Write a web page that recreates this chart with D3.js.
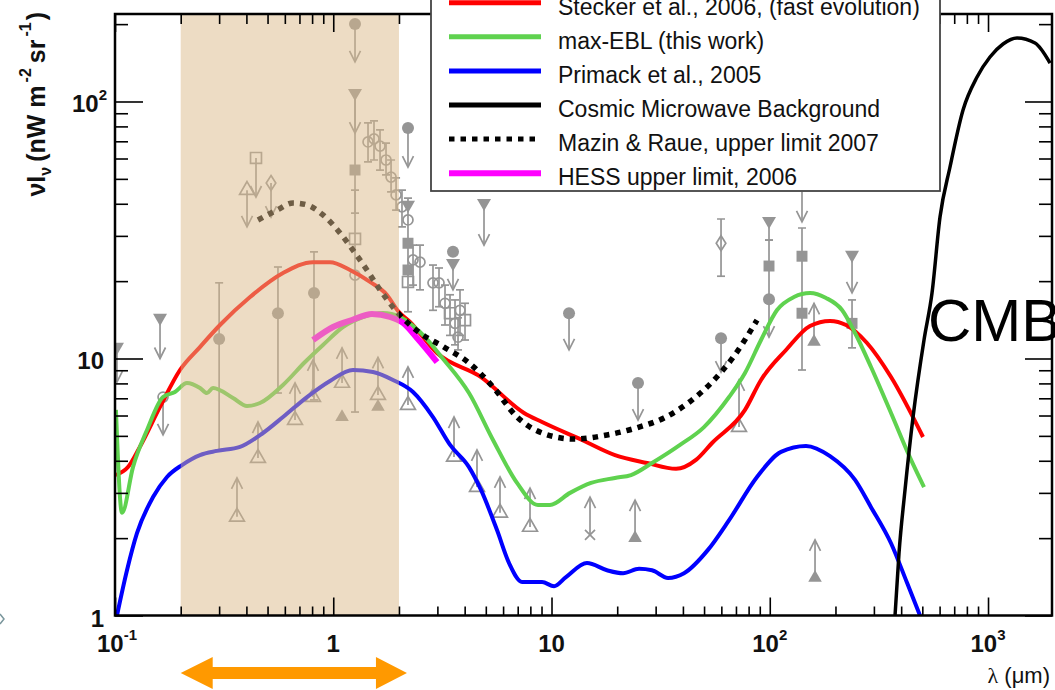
<!DOCTYPE html>
<html>
<head>
<meta charset="utf-8">
<script src="https://cdn.jsdelivr.net/npm/d3@7"></script>
<style>
  html, body { margin: 0; padding: 0; background: #fff; overflow: hidden; }
  svg { display: block; }
  text { font-family: "Liberation Sans", Arial, Helvetica, sans-serif; }
</style>
</head>
<body>
<svg id="chart" width="1055" height="690"></svg>
<script>
// ---------- EBL model curves: wavelength (um) and nu*I_nu (nW m^-2 sr^-1) ----------
const steckerLam = [0.101, 0.1147, 0.130, 0.1608, 0.1985, 0.245, 0.3027, 0.4157, 0.5886, 0.8075, 0.966, 1.193, 1.474, 1.763, 1.98, 2.247, 2.988, 4.753, 7.48, 9.05, 13.8, 19.54, 27.4, 37.2, 45.9, 54.4, 77.0, 91.2, 118.7, 152.9, 188.8, 223.6, 279, 359.4, 503.7];
const steckerVal = [3.52, 3.78, 4.53, 6.48, 9.02, 11.08, 13.5, 17.35, 21.5, 23.7, 23.7, 22.1, 19.85, 17.67, 15.3, 13.87, 10.5, 8.47, 6.14, 5.66, 4.82, 4.21, 3.92, 3.72, 4.03, 4.69, 6.31, 8.25, 10.79, 13.38, 14.0, 13.5, 11.49, 8.47, 4.95];

const maxEblLam = [0.101, 0.1077, 0.1209, 0.1402, 0.166, 0.1883, 0.2137, 0.2452, 0.2639, 0.2812, 0.3473, 0.4026, 0.4617, 0.5886, 0.7424, 0.8974, 1.108, 1.369, 1.69, 2.023, 2.497, 3.217, 4.188, 5.395, 6.95, 8.67, 9.84, 12.16, 15.17, 19.54, 23.14, 28.87, 38.8, 49.97, 65.1, 77.0, 91.2, 108, 129.1, 152.9, 181.1, 214.3, 245.9, 291, 359.4, 444, 509];
const maxEblVal = [6.31, 2.51, 3.78, 5.27, 7.08, 7.41, 8.03, 7.68, 7.34, 7.68, 7.02, 6.54, 6.71, 7.89, 9.69, 11.29, 13.26, 14.5, 15.03, 14.5, 12.68, 9.87, 7.34, 4.82, 3.28, 2.69, 2.69, 3.0, 3.28, 3.43, 3.52, 3.92, 4.61, 5.41, 7.08, 8.78, 11.8, 15.44, 17.35, 17.98, 17.2, 15.44, 12.57, 9.27, 6.14, 4.03, 3.16];

const primackLam = [0.1021, 0.1135, 0.1261, 0.1494, 0.1731, 0.2028, 0.2452, 0.2934, 0.3739, 0.4766, 0.5886, 0.758, 0.966, 1.231, 1.521, 1.878, 2.32, 2.864, 3.43, 4.188, 4.753, 5.627, 6.39, 7.33, 9.05, 10.27, 11.65, 14.54, 17.96, 21.27, 25.18, 28.87, 34.18, 40.47, 52.1, 65.1, 87.4, 112.6, 146.6, 188.8, 245.9, 291, 359.4, 425.6, 488];
const primackVal = [1.0, 1.50, 2.09, 2.89, 3.46, 3.85, 4.21, 4.37, 4.53, 5.13, 5.92, 7.08, 8.18, 9.02, 8.86, 8.25, 7.41, 5.92, 4.61, 3.78, 3.08, 2.15, 1.60, 1.35, 1.35, 1.30, 1.41, 1.60, 1.50, 1.46, 1.52, 1.50, 1.40, 1.46, 1.80, 2.35, 3.46, 4.33, 4.57, 4.17, 3.37, 2.64, 1.91, 1.34, 1.0];

const cmbLam = [374.9, 391, 416.6, 453.4, 509, 553.8, 602.6, 669.6, 768.3, 890.7, 1021, 1172, 1358, 1642, 1924];
const cmbVal = [1.0, 1.75, 3.08, 5.92, 11.8, 17.98, 35.5, 55.6, 92.7, 124.5, 149, 167.4, 176.7, 168.9, 141.1];

const mazinLam = [0.452, 0.5524, 0.654, 0.758, 0.8974, 1.074, 1.231, 1.427, 1.638, 1.98, 2.497, 3.217, 4.188, 5.395, 6.95, 9.05, 12.68, 17.96, 25.18, 32.77, 42.21, 54.4, 67.9, 87.4];
const mazinVal = [34.6, 37.8, 40.3, 39.6, 36.2, 30.8, 26.4, 22.1, 18.5, 15.03, 12.57, 11.08, 9.61, 7.75, 5.92, 5.13, 4.86, 5.04, 5.41, 5.87, 6.71, 8.10, 10.1, 14.1];

const hessLam = [0.8075, 0.9975, 1.218, 1.505, 1.82, 2.088, 2.419, 2.988];
const hessVal = [11.8, 13.26, 14.12, 14.9, 14.5, 13.75, 12.02, 9.69];

// ---------- measurements, upper limits (lim < v) and lower limits (lim > v) ----------
const measurements = [
  {l: 0.1021, v: 11.1, m: "dtri", lim: 8.10},
  {l: 0.1608, v: 14.4, m: "dtri", lim: 10.0},
  {l: 0.166,  v: 7.08, m: "ocirc", lim: 5.04},
  {l: 0.4026, v: 45.2, m: "otri", lim: 32.5},
  {l: 0.4426, v: 60.3, m: "osq", lim: 42.5},
  {l: 0.5186, v: 48.2, m: "odia", lim: 35.5},
  {l: 0.300,  v: 11.9, m: "circ", lo: 4.41, hi: 19.7},
  {l: 0.558,  v: 15.0, m: "circ", lo: 7.34, hi: 22.7},
  {l: 0.8161, v: 18.0, m: "circ", lo: 6.90, hi: 26.0},
  {l: 0.3622, v: 2.42, m: "otri", lim: 3.43},
  {l: 0.452,  v: 4.10, m: "otri", lim: 5.66},
  {l: 0.668,  v: 5.76, m: "otri", lim: 8.03},
  {l: 0.8075, v: 7.08, m: "otri", lim: 9.87},
  {l: 1.097,  v: 8.03, m: "otri", lim: 11.0},
  {l: 1.097,  v: 5.92, m: "tri"},
  {l: 1.603,  v: 7.21, m: "otri", lim: 10.1},
  {l: 1.603,  v: 6.48, m: "tri"},
  {l: 1.258,  v: 200.3, m: "circ", lim: 142.5},
  {l: 1.258,  v: 107.9, m: "dtri", lim: 75.4},
  {l: 1.258,  v: 54.1, m: "sq", lo: 36.8, hi: 107.9},
  {l: 1.258,  v: 21.1, m: "ocirc", lo: 6.19, hi: 45.2},
  {l: 1.258,  v: 29.2, m: "osq"},
  {l: 1.443,  v: 69.6, m: "ocirc", lo: 58.2, hi: 82.5},
  {l: 1.537,  v: 71.5, m: "ocirc", lo: 59.2, hi: 84.0},
  {l: 1.638,  v: 67.1, m: "ocirc", lo: 54.1, hi: 77.5},
  {l: 1.745,  v: 59.2, m: "ocirc", lo: 51.8, hi: 68.9},
  {l: 1.840,  v: 50.8, m: "ocirc", lo: 44.5, hi: 59.2},
  {l: 1.940,  v: 43.3, m: "ocirc", lo: 37.8, hi: 50.4},
  {l: 2.065,  v: 38.9, m: "ocirc", lo: 32.5, hi: 45.2},
  {l: 2.200,  v: 78.9, m: "circ", lim: 55.6},
  {l: 2.200,  v: 39.6, m: "dtri", lo: 15.2, hi: 42.1},
  {l: 2.200,  v: 34.6, m: "ocirc"},
  {l: 2.200,  v: 28.1, m: "sq"},
  {l: 2.200,  v: 22.1, m: "sq"},
  {l: 2.200,  v: 19.85, m: "osq"},
  {l: 2.320,  v: 24.2, m: "ocirc", lo: 19.3, hi: 27.6},
  {l: 2.497,  v: 23.7, m: "ocirc", lo: 18.5, hi: 27.6},
  {l: 2.864,  v: 19.7, m: "ocirc", lo: 15.4, hi: 23.1},
  {l: 3.052,  v: 19.7, m: "ocirc", lo: 15.9, hi: 22.5},
  {l: 3.537,  v: 26.0, m: "circ"},
  {l: 3.537,  v: 23.5, m: "dtri", lim: 18.5},
  {l: 3.251,  v: 16.4, m: "ocirc", lo: 13.5, hi: 19.3},
  {l: 3.427,  v: 15.0, m: "osq", lo: 12.3, hi: 17.7},
  {l: 3.613,  v: 13.7, m: "ocirc", lo: 11.3, hi: 16.9},
  {l: 3.808,  v: 15.4, m: "ocirc", lo: 12.3, hi: 18.5},
  {l: 4.015,  v: 14.1, m: "osq", lo: 11.8, hi: 16.4},
  {l: 3.730,  v: 12.1, m: "ocirc", lo: 10.8, hi: 14.4},
  {l: 4.906,  v: 40.3, m: "dtri", lim: 27.6},
  {l: 2.200,  v: 6.59, m: "otri", lim: 9.27},
  {l: 3.575,  v: 4.14, m: "otri", lim: 5.92},
  {l: 4.556,  v: 3.16, m: "otri", lim: 4.41},
  {l: 5.808,  v: 2.51, m: "otri", lim: 3.46},
  {l: 7.971,  v: 2.21, m: "otri", lim: 3.13},
  {l: 12.03,  v: 15.0, m: "circ", lim: 10.8},
  {l: 24.91,  v: 8.03, m: "circ", lim: 5.76},
  {l: 15.01,  v: 2.06, m: "cross", lim: 2.89},
  {l: 24.14,  v: 2.00, m: "tri", lim: 2.81},
  {l: 59.8,   v: 28.1, m: "odia", lo: 20.9, hi: 34.9},
  {l: 59.8,   v: 12.0, m: "circ", lim: 8.86},
  {l: 72.3,   v: 5.41, m: "otri", lim: 8.25},
  {l: 99.2,   v: 34.3, m: "dtri", lo: 28.9, hi: 34.3},
  {l: 99.2,   v: 22.9, m: "sq", lo: 17.0, hi: 28.9},
  {l: 99.2,   v: 17.0, m: "circ", lim: 12.1},
  {l: 140.5,  v: 44.5, m: "none", lim: 34.0},
  {l: 140.5,  v: 25.0, m: "sq", lo: 9.02, hi: 32.2},
  {l: 140.5,  v: 15.0, m: "sq"},
  {l: 159.5,  v: 11.6, m: "tri", lim: 16.4},
  {l: 161.2,  v: 1.40, m: "tri", lim: 1.97},
  {l: 238.2,  v: 25.3, m: "dtri", lim: 18.0},
  {l: 238.2,  v: 13.7, m: "sq", lo: 11.0, hi: 16.9}
];

// ---------- axes, band and legend text ----------
const xMajorTicks = [0.1, 1, 10, 100, 1000];
const xTickLabels = [["10", "-1"], ["1", ""], ["10", ""], ["10", "2"], ["10", "3"]];
const yMajorTicks = [1, 10, 100];
const yTickLabels = [["1", ""], ["10", ""], ["10", "2"]];
const bandLam = [0.2, 2];
const legendLabels = [
  "Stecker et al., 2006, (fast evolution)",
  "max-EBL (this work)",
  "Primack et al., 2005",
  "Cosmic Microwave Background",
  "Mazin & Raue, upper limit 2007",
  "HESS upper limit, 2006"
];

// ---------- drawing ----------
const svg = d3.select("#chart");
const L = 115, R = 1052, T = 14, B = 615.5;

const x = d3.scaleLog().domain([0.1, 1964]).range([L, R]);
const y = d3.scaleLog().domain([1, 219]).range([B, T]);

svg.append("defs").append("clipPath").attr("id", "plotClip")
  .append("rect").attr("x", L).attr("y", T).attr("width", R - L).attr("height", B - T);

const plot = svg.append("g").attr("clip-path", "url(#plotClip)");

// gray data points
const GRAY = "#959595";
const pts = plot.append("g").attr("stroke", GRAY).attr("stroke-width", 1.7).attr("fill", "none");
const sym = (type, size) => d3.symbol().type(type).size(size)();

measurements.forEach(d => {
  const cx = x(d.l), cy = y(d.v);
  if (d.lo != null) {
    const y1 = y(d.hi), y2 = y(d.lo);
    pts.append("line").attr("x1", cx).attr("x2", cx).attr("y1", y1).attr("y2", y2);
    [y1, y2].forEach(yy => pts.append("line").attr("x1", cx - 4).attr("x2", cx + 4).attr("y1", yy).attr("y2", yy));
  }
  if (d.lim != null) {
    const ye = y(d.lim);
    const dir = ye > cy ? -1 : 1;
    pts.append("line").attr("x1", cx).attr("x2", cx).attr("y1", cy).attr("y2", ye);
    pts.append("path").attr("d", `M${cx - 5.5},${ye + dir * 11}L${cx},${ye}L${cx + 5.5},${ye + dir * 11}`);
  }
  const g = pts.append("g").attr("transform", `translate(${cx},${cy})`);
  switch (d.m) {
    case "circ": g.append("circle").attr("r", 6).attr("fill", GRAY).attr("stroke", "none"); break;
    case "ocirc": g.append("circle").attr("r", 5).attr("fill", "none"); break;
    case "sq": g.append("path").attr("d", sym(d3.symbolSquare, 120)).attr("fill", GRAY).attr("stroke", "none"); break;
    case "osq": g.append("path").attr("d", sym(d3.symbolSquare, 120)); break;
    case "tri": g.append("path").attr("d", sym(d3.symbolTriangle, 80)).attr("fill", GRAY).attr("stroke", "none"); break;
    case "otri": g.append("path").attr("d", sym(d3.symbolTriangle, 95)); break;
    case "dtri": g.append("path").attr("d", sym(d3.symbolTriangle, 85)).attr("transform", "rotate(180)").attr("fill", GRAY).attr("stroke", "none"); break;
    case "odia": g.append("path").attr("d", "M0,-7.5L4.8,0L0,7.5L-4.8,0Z"); break;
    case "cross": g.append("path").attr("d", "M-5,-5L5,5M-5,5L5,-5"); break;
  }
});

// model curves
const line = d3.line().x(d => x(d[0])).y(d => y(d[1])).curve(d3.curveMonotoneX);
const curve = (lam, val, color, width, dash) => {
  const p = plot.append("path").datum(d3.zip(lam, val))
    .attr("d", line).attr("fill", "none").attr("stroke", color)
    .attr("stroke-width", width).attr("stroke-linejoin", "round");
  if (dash) p.attr("stroke-dasharray", dash);
  return p;
};
curve(primackLam, primackVal, "#0000ff", 4);
curve(steckerLam, steckerVal, "#ff0000", 4);
curve(maxEblLam, maxEblVal, "#5fd24f", 4);
curve(hessLam, hessVal, "#ff00ff", 6);
curve(mazinLam, mazinVal, "#000000", 5.5, "5.5,6");
curve(cmbLam, cmbVal, "#000000", 3.5);

// translucent band over the 0.2-2 um range
plot.append("rect")
  .attr("x", x(bandLam[0])).attr("y", T)
  .attr("width", x(bandLam[1]) - x(bandLam[0])).attr("height", B - T)
  .attr("fill", "rgb(220,186,137)").attr("fill-opacity", 0.5);

// axes with inward ticks
const minorX = x.ticks().filter(v => !xMajorTicks.includes(v));
const minorY = y.ticks().filter(v => !yMajorTicks.includes(v));
function drawAxis(gen, tr, values, size) {
  const g = svg.append("g").attr("transform", tr)
    .call(gen.tickValues(values).tickSize(-size).tickFormat(""));
  g.select(".domain").remove();
  g.selectAll("line").attr("stroke", "#000").attr("stroke-width", 1.6);
}
drawAxis(d3.axisBottom(x), `translate(0,${B})`, xMajorTicks, 18);
drawAxis(d3.axisBottom(x), `translate(0,${B})`, minorX, 9);
drawAxis(d3.axisTop(x), `translate(0,${T})`, xMajorTicks, 18);
drawAxis(d3.axisTop(x), `translate(0,${T})`, minorX, 10);
drawAxis(d3.axisLeft(y), `translate(${L},0)`, yMajorTicks, 28);
drawAxis(d3.axisLeft(y), `translate(${L},0)`, minorY, 13);
drawAxis(d3.axisRight(y), `translate(${R},0)`, yMajorTicks, 27);
drawAxis(d3.axisRight(y), `translate(${R},0)`, minorY, 13);

svg.append("rect").attr("x", L).attr("y", T).attr("width", R - L).attr("height", B - T)
  .attr("fill", "none").attr("stroke", "#000").attr("stroke-width", 2.5);

// tick labels with superscripts
function label(sel, parts) {
  sel.append("tspan").text(parts[0]);
  if (parts[1]) sel.append("tspan").attr("font-size", 15).attr("dy", -12).text(parts[1]);
}
xMajorTicks.forEach((v, i) => {
  const t = svg.append("text").attr("x", x(v) + (i === 0 ? 2 : 0)).attr("y", 652)
    .attr("text-anchor", "middle").attr("font-size", 24).attr("font-weight", "bold").attr("fill", "#111");
  label(t, xTickLabels[i]);
});
yMajorTicks.forEach((v, i) => {
  const t = svg.append("text").attr("x", yTickLabels[i][1] ? 107 : 104).attr("y", y(v) + 11)
    .attr("text-anchor", "end").attr("font-size", 24).attr("font-weight", "bold").attr("fill", "#111");
  label(t, yTickLabels[i]);
});

// axis titles
const yt = svg.append("text").attr("transform", "translate(45,12) rotate(-90)")
  .attr("text-anchor", "end").attr("font-size", 25).attr("font-weight", "bold").attr("fill", "#111");
yt.append("tspan").text("\u03bdI");
yt.append("tspan").attr("font-size", 16).attr("dy", 6).text("\u03bd");
yt.append("tspan").attr("dy", -6).attr("dx", 5).text("(nW m");
yt.append("tspan").attr("font-size", 16).attr("dy", -14).attr("dx", 3).text("-2");
yt.append("tspan").attr("dy", 14).attr("dx", 5).text("sr");
yt.append("tspan").attr("font-size", 16).attr("dy", -14).attr("dx", 3).text("-1");
yt.append("tspan").attr("dy", 14).attr("dx", 2).text(")");

const xt = svg.append("text").attr("x", 1050).attr("y", 683).attr("text-anchor", "end")
  .attr("font-size", 22).attr("fill", "#111");
xt.append("tspan").attr("font-family", "'Liberation Serif', 'DejaVu Serif', serif").text("\u03bb");
xt.append("tspan").text(" (\u03bcm)");

// CMB annotation
svg.append("text").attr("x", 928).attr("y", 341).attr("font-size", 60).attr("fill", "#000").text("CMB");

// legend
const legendStyles = [
  {color: "#ff0000", width: 5},
  {color: "#5fd24f", width: 5},
  {color: "#0000ff", width: 5},
  {color: "#000000", width: 5},
  {color: "#000000", width: 5, dash: "5.5,6"},
  {color: "#ff00ff", width: 6}
];
const lg = svg.append("g");
lg.append("rect").attr("x", 431).attr("y", -40).attr("width", 509).attr("height", 231)
  .attr("fill", "#fff").attr("stroke", "#444").attr("stroke-width", 1.8);
legendLabels.forEach((txt, i) => {
  const st = legendStyles[i];
  const ly = 2.7 + i * 34.1;
  const ln = lg.append("line").attr("x1", 449).attr("x2", 541).attr("y1", ly).attr("y2", ly)
    .attr("stroke", st.color).attr("stroke-width", st.width);
  if (st.dash) ln.attr("stroke-dasharray", st.dash);
  lg.append("text").attr("x", 558).attr("y", 15.3 + i * 34).attr("font-size", 23)
    .attr("fill", "#111").text(txt);
});

// orange range arrow under the band
const ax0 = x(bandLam[0]), ax1 = x(bandLam[1]) + 8, ay = 673;
svg.append("path")
  .attr("d", `M${ax0},${ay}L${ax0 + 32},${ay - 16}L${ax0 + 32},${ay - 6}L${ax1 - 31},${ay - 6}L${ax1 - 31},${ay - 16}L${ax1},${ay}L${ax1 - 31},${ay + 16}L${ax1 - 31},${ay + 6}L${ax0 + 32},${ay + 6}L${ax0 + 32},${ay + 16}Z`)
  .attr("fill", "#ff9900");

// small edge mark at the far left
svg.append("path").attr("d", "M0,614L4,619L0,624").attr("fill", "none")
  .attr("stroke", "#7a969c").attr("stroke-width", 1.5);
</script>
</body>
</html>
